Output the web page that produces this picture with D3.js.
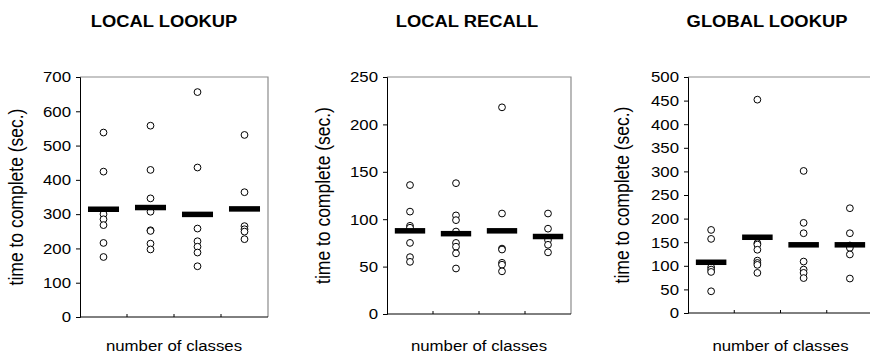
<!DOCTYPE html>
<html>
<head>
<meta charset="utf-8">
<title>time to complete by number of classes</title>
<script src="https://unpkg.com/d3@7/dist/d3.min.js"></script>
<style>
body { margin: 0; background: #fff; }
text { font-family: "Liberation Sans", Arial, sans-serif; fill: #000; }
.title { font-weight: bold; }
</style>
</head>
<body>
<div id="chart"></div>
<script>
// categories (unlabelled in the original)
const classes = ["c1", "c2", "c3", "c4"];

// LOCAL LOOKUP
const lookupPoints = [
  [538, 424, 300, 285, 268, 216, 175],
  [558, 429, 346, 307, 253, 251, 214, 197],
  [656, 436, 258, 221, 205, 188, 148],
  [531, 364, 265, 256, 249, 227]
];
const lookupMeans = [315, 320, 300, 316];
const lookupTicks = [0, 100, 200, 300, 400, 500, 600, 700];

// LOCAL RECALL
const recallPoints = [
  [136, 108, 93, 91, 75, 60, 55],
  [138, 104, 99, 87, 75, 71, 64, 48],
  [218, 106, 69, 68, 54, 52, 45],
  [106, 90, 78, 73, 65]
];
const recallMeans = [88, 85, 88, 82];
const recallTicks = [0, 50, 100, 150, 200, 250];

// GLOBAL LOOKUP
const globalPoints = [
  [176, 157, 97, 92, 87, 46],
  [452, 148, 145, 134, 111, 106, 102, 85],
  [301, 191, 169, 109, 92, 85, 74],
  [222, 169, 143, 138, 124, 73]
];
const globalMeans = [108, 161, 145, 145];
const globalTicks = [0, 50, 100, 150, 200, 250, 300, 350, 400, 450, 500];

const svg = d3.select("#chart").append("svg")
    .attr("width", 870)
    .attr("height", 355);

function drawPanel(opt) {
    const x = d3.scaleBand().domain(classes).range([opt.left, opt.right]);
    const y = d3.scaleLinear().domain([0, d3.max(opt.ticks)]).range([opt.bottom, opt.top]);
    const g = svg.append("g");
    const cx = (opt.left + opt.right) / 2;

    // grey frame top + right
    g.append("path")
        .attr("d", `M${opt.left},${opt.top}H${opt.right}V${opt.bottom}`)
        .attr("fill", "none")
        .attr("stroke", "#8c8c8c")
        .attr("stroke-width", 1.2);

    // y axis
    const yAxis = g.append("g")
        .attr("transform", `translate(${opt.left},0)`)
        .call(d3.axisLeft(y).tickValues(opt.ticks).tickSize(4).tickPadding(5).tickFormat(d3.format("d")));
    yAxis.select(".domain").attr("stroke", "#000");
    yAxis.selectAll(".tick text")
        .attr("font-size", 15)
        .attr("font-family", "Liberation Sans, Arial, sans-serif")
        .each(function () {
            const t = d3.select(this);
            const xx = +t.attr("x");
            t.attr("x", null).attr("transform", `translate(${xx},0) scale(1.12,1)`);
        });

    // x axis, inner ticks at band boundaries
    g.append("line")
        .attr("x1", opt.left).attr("x2", opt.right)
        .attr("y1", opt.bottom).attr("y2", opt.bottom)
        .attr("stroke", "#000");
    g.selectAll(".xtick")
        .data(classes.slice(1))
        .join("line")
        .attr("class", "xtick")
        .attr("x1", d => x(d)).attr("x2", d => x(d))
        .attr("y1", opt.bottom).attr("y2", opt.bottom - 3)
        .attr("stroke", "#000");

    // points
    opt.points.forEach((vals, i) => {
        g.selectAll(null)
            .data(vals)
            .join("circle")
            .attr("cx", x(classes[i]) + x.bandwidth() / 2)
            .attr("cy", d => y(d))
            .attr("r", 3.4)
            .attr("fill", "#fff")
            .attr("stroke", "#000")
            .attr("stroke-width", 1);
    });

    // mean bars
    const bw = x.bandwidth() * 0.66;
    g.selectAll(".mean")
        .data(opt.means)
        .join("rect")
        .attr("class", "mean")
        .attr("x", (d, i) => x(classes[i]) + (x.bandwidth() - bw) / 2)
        .attr("y", d => y(d) - 2.5)
        .attr("width", bw)
        .attr("height", 5.5)
        .attr("fill", "#000");

    // titles and labels
    g.append("text")
        .attr("class", "title")
        .attr("transform", `translate(${opt.titleX},27) scale(1.08,1)`)
        .attr("text-anchor", "middle")
        .attr("font-size", 17)
        .text(opt.title);

    g.append("text")
        .attr("transform", `translate(${cx},351) scale(1.12,1)`)
        .attr("text-anchor", "middle")
        .attr("font-size", 15)
        .text("number of classes");

    g.append("text")
        .attr("transform", `translate(${opt.labelX},${(opt.top + opt.bottom) / 2}) rotate(-90) scale(1,1.12)`)
        .attr("text-anchor", "middle")
        .attr("font-size", 17.5)
        .text("time to complete (sec.)");
}

drawPanel({ title: "LOCAL LOOKUP", titleX: 164, left: 80, right: 268, top: 77, bottom: 317,
    labelX: 23, ticks: lookupTicks, points: lookupPoints, means: lookupMeans });
drawPanel({ title: "LOCAL RECALL", titleX: 467, left: 387, right: 571, top: 77, bottom: 314,
    labelX: 330, ticks: recallTicks, points: recallPoints, means: recallMeans });
drawPanel({ title: "GLOBAL LOOKUP", titleX: 767, left: 688, right: 873, top: 77, bottom: 313,
    labelX: 629, ticks: globalTicks, points: globalPoints, means: globalMeans });
</script>
</body>
</html>
